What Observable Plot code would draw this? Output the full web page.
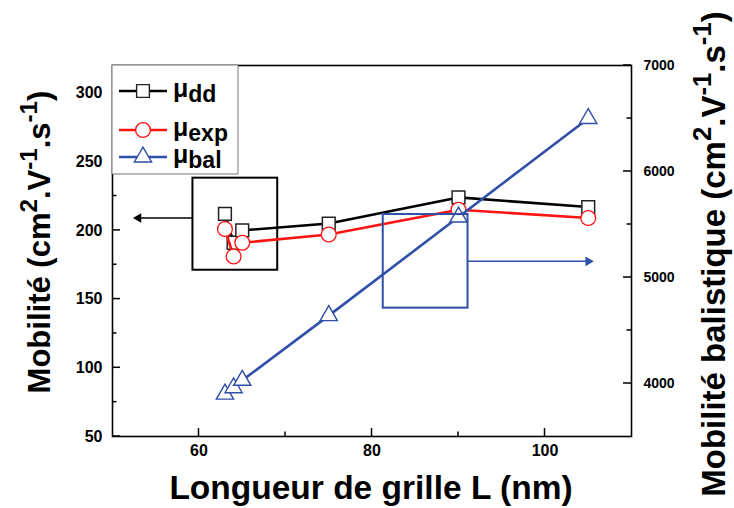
<!DOCTYPE html>
<html><head><meta charset="utf-8">
<script src="https://cdn.jsdelivr.net/npm/d3@7"></script>
<script src="https://cdn.jsdelivr.net/npm/@observablehq/plot@0.6"></script>
<style>body{margin:0;background:#fff;} #chart{width:734px;height:508px;}</style>
</head><body><div id="chart"></div>
<script>
// ---- data ----
const gateLength = [63, 64, 65, 75, 90, 105];
const muDD  = [212, 191, 200, 205, 224, 217];
const muExp = [201, 181, 191, 197, 215, 209];
const muBal = [3900, 3960, 4030, 4640, 5570, 6500];
const xTicks = [60, 80, 100];
const xMinor = [70, 90];
const leftTicks = [50, 100, 150, 200, 250, 300];
const leftMinor = [75, 125, 175, 225, 275];
const rightTicks = [4000, 5000, 6000, 7000];
const rightMinor = [4500, 5500, 6500];
const seriesNames = ["dd", "exp", "bal"];
// annotation boxes (data units): black box on left axis, blue box on right axis
const blackBox = [{x1: 59.3, x2: 69.1, y1: 171, y2: 238}];
const blackArrow = [{x1: 59.3, x2: 53.2, y: 209, tip: 53.0}];
const blueBox = [{x1: 81.3, x2: 91.1, y1: 4711, y2: 5594}];
const blueArrow = [{x1: 91.1, x2: 104.8, y: 5153, tip: 105.0}];

// ---- helpers ----
const toLeft = v => 50 + (v - 3500) * (270 / 3500);
const fromLeft = y => 3500 + (y - 50) * (3500 / 270);
const rows = gateLength.map((x, i) => ({x, dd: muDD[i], exp: muExp[i], bal: toLeft(muBal[i])}));
const font = "'Liberation Sans', Arial, Helvetica, sans-serif";
const blue = "#2f4fa8", red = "#ff1414", black = "#000";

const plot = Plot.plot({
  width: 734, height: 508,
  marginLeft: 112, marginRight: 103, marginTop: 65, marginBottom: 72,
  x: {domain: [50, 110]},
  y: {domain: [50, 320]},
  style: {fontFamily: font, background: "white", color: "black"},
  marks: [
    Plot.axisX({ticks: xTicks, tickSize: 0, tickPadding: 8, fontSize: 16, fontWeight: "bold", label: null}),
    Plot.axisY({ticks: leftTicks, tickSize: 0, tickPadding: 10, fontSize: 16, fontWeight: "bold", label: null}),
    Plot.axisY({anchor: "right", ticks: rightTicks.map(toLeft), tickFormat: d => String(Math.round(fromLeft(d))), tickSize: 0, tickPadding: 12, fontSize: 14, fontWeight: "bold", label: null}),
    Plot.frame({stroke: black, strokeWidth: 1.6}),
    // black annotation
    Plot.rect(blackBox, {x1: "x1", x2: "x2", y1: "y1", y2: "y2", fill: "none", stroke: black, strokeWidth: 2}),
    Plot.link(blackArrow, {x1: "x1", x2: "x2", y1: "y", y2: "y", stroke: black, strokeWidth: 1.5}),
    Plot.dot(blackArrow, {x: "tip", y: "y", symbol: "triangle", r: 3.6, rotate: -90, fill: black, stroke: "none"}),
    // series
    Plot.line(rows, {x: "x", y: "dd", stroke: black, strokeWidth: 2.6}),
    Plot.dot(rows, {x: "x", y: "dd", symbol: "square", r: 7.2, fill: "white", stroke: "#222", strokeWidth: 1.5}),
    Plot.line(rows, {x: "x", y: "exp", stroke: red, strokeWidth: 2.6}),
    Plot.dot(rows, {x: "x", y: "exp", symbol: "circle", r: 7.4, fill: "white", stroke: red, strokeWidth: 1.3}),
    Plot.line(rows, {x: "x", y: "bal", stroke: blue, strokeWidth: 2.6}),
    Plot.dot(rows, {x: "x", y: "bal", symbol: "triangle", r: 6.4, fill: "white", stroke: blue, strokeWidth: 1.4}),
    // blue annotation
    Plot.rect(blueBox, {x1: "x1", x2: "x2", y1: d => toLeft(d.y1), y2: d => toLeft(d.y2), fill: "none", stroke: blue, strokeWidth: 2}),
    Plot.link(blueArrow, {x1: "x1", x2: "x2", y1: d => toLeft(d.y), y2: d => toLeft(d.y), stroke: blue, strokeWidth: 1.5}),
    Plot.dot(blueArrow, {x: "tip", y: d => toLeft(d.y), symbol: "triangle", r: 3.6, rotate: 90, fill: blue, stroke: "none"})
  ]
});

const svg = d3.select(plot);
const sx = plot.scale("x"), sy = plot.scale("y");
const [fx0, fx1] = sx.range, [fy0] = sy.range; // frame left/right, bottom
// inward ticks, positioned through the plot's own scales
const tg = svg.append("g").attr("stroke", "black").attr("stroke-width", 1.5);
const tick = (x1, y1, x2, y2) => tg.append("line").attr("x1", x1).attr("y1", y1).attr("x2", x2).attr("y2", y2);
const T = 8, t = 4.5;
xTicks.forEach(v => tick(sx.apply(v), fy0, sx.apply(v), fy0 - T));
xMinor.forEach(v => tick(sx.apply(v), fy0, sx.apply(v), fy0 - t));
leftTicks.forEach(v => tick(fx0, sy.apply(v), fx0 + T, sy.apply(v)));
leftMinor.forEach(v => tick(fx0, sy.apply(v), fx0 + t, sy.apply(v)));
rightTicks.forEach(v => tick(fx1, sy.apply(toLeft(v)), fx1 - T, sy.apply(toLeft(v))));
rightMinor.forEach(v => tick(fx1, sy.apply(toLeft(v)), fx1 - t, sy.apply(toLeft(v))));

function supTitle(g, parts, size) {
  const tx = g.append("text").attr("font-size", size).attr("font-weight", "bold")
    .attr("font-family", font).attr("text-anchor", "middle").attr("fill", "black");
  let shift = 0;
  parts.forEach(([s, sup]) => {
    const dy = sup ? -0.42 * size - shift : -shift;
    tx.append("tspan").attr("dy", dy).attr("font-size", sup ? size * 0.78 : size).text(s);
    shift = sup ? -0.42 * size : 0;
  });
  return tx;
}
const unit = [["(cm", 0], ["2", 1], [".V", 0], ["-1", 1], [".s", 0], ["-1", 1], [")", 0]];
// x title
svg.append("text").attr("x", 371).attr("y", 499).attr("text-anchor", "middle")
  .attr("font-family", font).attr("font-size", 33.5).attr("font-weight", "bold").text("Longueur de grille L (nm)");
// left title
const gl = svg.append("g").attr("transform", "translate(50,242) rotate(-90)");
supTitle(gl, [["Mobilité ", 0], ...unit], 31);
// right title
const gr = svg.append("g").attr("transform", "translate(725,254) rotate(-90)");
supTitle(gr, [["Mobilité balistique ", 0], ...unit], 33);

// legend
const lg = svg.append("g");
lg.append("rect").attr("x", 112).attr("y", 65).attr("width", 126).attr("height", 109)
  .attr("fill", "white").attr("stroke", "#777").attr("stroke-width", 1);
const legColors = [black, red, blue];
const legSym = [d3.symbolSquare, d3.symbolCircle, d3.symbolTriangle];
const legR = [7.2, 7.4, 6.4];
const legY = [91, 130, 157];
seriesNames.forEach((name, i) => {
  const y = legY[i];
  lg.append("line").attr("x1", 119).attr("x2", 167).attr("y1", y).attr("y2", y)
    .attr("stroke", legColors[i]).attr("stroke-width", 2.6);
  lg.append("path").attr("d", d3.symbol(legSym[i], Math.PI * legR[i] * legR[i])())
    .attr("transform", `translate(143,${y})`).attr("fill", "white")
    .attr("stroke", i === 0 ? "#222" : legColors[i]).attr("stroke-width", 1.4);
  const tx = lg.append("text").attr("x", 173).attr("y", y + 6).attr("font-family", font)
    .attr("text-anchor", "start").attr("font-weight", "bold").attr("font-size", 25).attr("fill", "black");
  tx.append("tspan").text("μ");
  tx.append("tspan").attr("dy", 5).attr("font-size", 23).text(name);
});

document.getElementById("chart").appendChild(plot);
</script>
</body></html>
